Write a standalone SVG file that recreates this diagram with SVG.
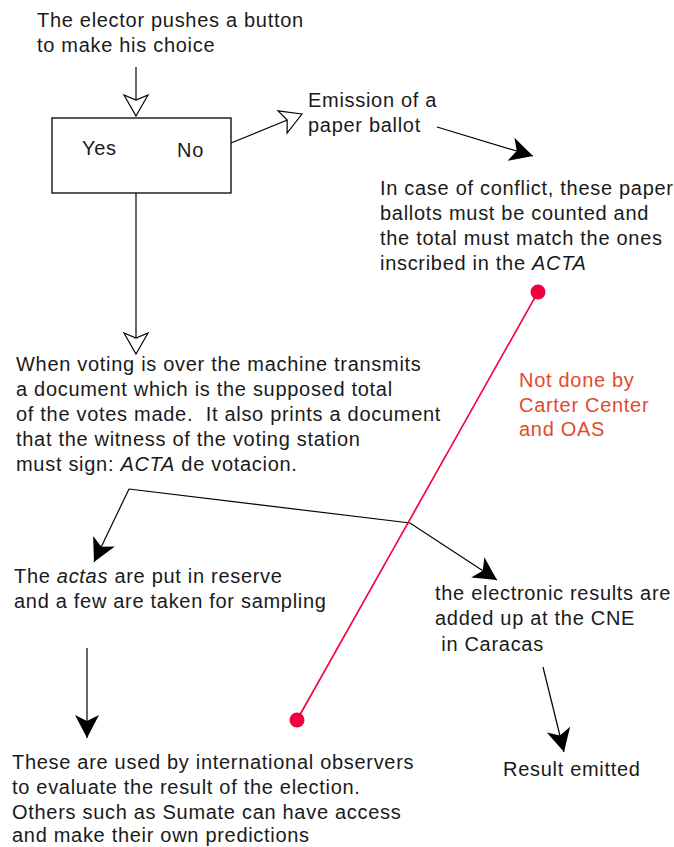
<svg xmlns="http://www.w3.org/2000/svg" width="674" height="847" viewBox="0 0 674 847">
<style>
text{font-family:"Liberation Sans",Arial,Helvetica,sans-serif;font-size:20px;letter-spacing:0.7px;fill:#1a1a1a;white-space:pre}
.red{fill:#e24a2b}
.it{font-style:italic}
.ln{stroke:#000;stroke-width:1.2;fill:none}
.redln{stroke:#f2003c;stroke-width:1.6;fill:none}
</style>
<defs>
<marker id="open" markerUnits="userSpaceOnUse" orient="auto" refX="0" refY="0" markerWidth="30" markerHeight="30" overflow="visible">
<path d="M0,0 L-21,-12 L-16,0 L-21,12 Z" fill="#fff" stroke="#000" stroke-width="1.2" stroke-linejoin="miter"/>
</marker>
<marker id="solid" markerUnits="userSpaceOnUse" orient="auto" refX="0" refY="0" markerWidth="30" markerHeight="30" overflow="visible">
<path d="M0,0 L-23,-12 L-17,0 L-23,12 Z" fill="#000"/>
</marker>
</defs>

<g id="connectors">
<line class="ln" x1="136" y1="67" x2="136" y2="116" marker-end="url(#open)"/>
<line class="ln" x1="136" y1="193" x2="136" y2="354" marker-end="url(#open)"/>
<line class="ln" x1="231" y1="143" x2="302" y2="114" marker-end="url(#open)"/>
<line class="ln" x1="437" y1="127" x2="533" y2="156" marker-end="url(#solid)"/>
<path class="ln" d="M129,489 L94,562" marker-end="url(#solid)"/>
<path class="ln" d="M129,489 L410,523 L497,580" marker-end="url(#solid)"/>
<line class="ln" x1="87" y1="648" x2="87" y2="738" marker-end="url(#solid)"/>
<line class="ln" x1="543" y1="667" x2="564" y2="752" marker-end="url(#solid)"/>
<line class="redln" x1="538" y1="292" x2="297" y2="720"/>
<circle cx="538" cy="292" r="7.5" fill="#f2003c"/>
<circle cx="297" cy="720" r="7.5" fill="#f2003c"/>
</g>

<g id="elector">
<text x="37" y="27">The elector pushes a button</text>
<text x="37" y="52">to make his choice</text>
</g>

<g id="machine">
<rect x="52" y="118" width="179" height="75" fill="#fff" stroke="#000" stroke-width="1.3"/>
<text x="82" y="155">Yes</text>
<text x="177" y="157">No</text>
</g>

<g id="emission">
<text x="308" y="107">Emission of a</text>
<text x="308" y="132">paper ballot</text>
</g>

<g id="conflict">
<text x="380" y="195">In case of conflict, these paper</text>
<text x="380" y="220">ballots must be counted and</text>
<text x="380" y="245">the total must match the ones</text>
<text x="380" y="270">inscribed in the <tspan class="it">ACTA</tspan></text>
</g>

<g id="transmit">
<text x="16" y="371">When voting is over the machine transmits</text>
<text x="16" y="396">a document which is the supposed total</text>
<text x="16" y="421">of the votes made.&#160; It also prints a document</text>
<text x="16" y="446">that the witness of the voting station</text>
<text x="16" y="471">must sign: <tspan class="it">ACTA</tspan> de votacion.</text>
</g>

<g id="note">
<text class="red" x="519" y="387">Not done by</text>
<text class="red" x="519" y="412">Carter Center</text>
<text class="red" x="519" y="436">and OAS</text>
</g>

<g id="actas">
<text x="14" y="583">The <tspan class="it">actas</tspan> are put in reserve</text>
<text x="14" y="608">and a few are taken for sampling</text>
</g>

<g id="electronic">
<text x="435" y="600">the electronic results are</text>
<text x="435" y="625">added up at the CNE</text>
<text x="435" y="651">&#160;in Caracas</text>
</g>

<g id="observers">
<text x="12" y="769">These are used by international observers</text>
<text x="12" y="794">to evaluate the result of the election.</text>
<text x="12" y="819">Others such as Sumate can have access</text>
<text x="12" y="842">and make their own predictions</text>
</g>

<g id="result">
<text x="503" y="776">Result emitted</text>
</g>
</svg>
